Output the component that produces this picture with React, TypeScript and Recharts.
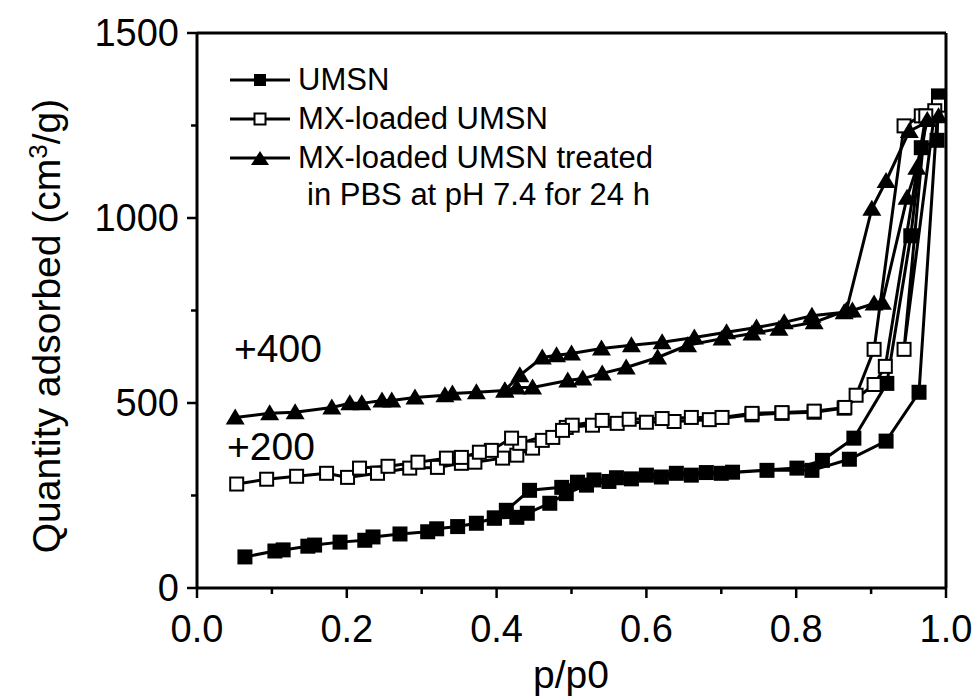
import React from "react";
import { LineChart, Line, XAxis, YAxis, ReferenceLine } from "recharts";

// UMSN: adsorption then desorption branch, in measurement order
const umsnAdsP = [0.064, 0.104, 0.115, 0.148, 0.157, 0.191, 0.224, 0.235, 0.271, 0.308, 0.32, 0.348, 0.373, 0.397, 0.427, 0.441, 0.471, 0.493, 0.52, 0.55, 0.58, 0.62, 0.66, 0.7, 0.761, 0.821, 0.871, 0.92, 0.964, 0.99];
const umsnAdsV = [84, 100, 103, 113, 116, 124, 129, 138, 146, 152, 160, 166, 175, 189, 191, 202, 229, 255, 278, 288, 295, 300, 305, 310, 318, 318, 348, 397, 529, 1330];
const umsnDesP = [0.988, 0.967, 0.953, 0.921, 0.877, 0.835, 0.801, 0.715, 0.68, 0.64, 0.6, 0.56, 0.53, 0.508, 0.487, 0.444, 0.413, 0.397];
const umsnDesV = [1210, 1190, 952, 553, 405, 345, 324, 313, 312, 310, 305, 298, 292, 286, 272, 264, 210, 189];

// MX-loaded UMSN (+200 offset already in the plotted values)
const mxAdsP = [0.053, 0.093, 0.133, 0.173, 0.201, 0.241, 0.284, 0.321, 0.353, 0.371, 0.408, 0.427, 0.448, 0.461, 0.475, 0.493, 0.528, 0.561, 0.6, 0.637, 0.684, 0.741, 0.781, 0.824, 0.864, 0.88, 0.904, 0.944, 0.967, 0.99];
const mxAdsV = [281, 294, 302, 310, 299, 310, 324, 326, 337, 340, 351, 359, 378, 399, 407, 434, 440, 445, 448, 450, 455, 468, 472, 475, 486, 521, 645, 1249, 1276, 1305];
const mxDesP = [0.985, 0.944, 0.973, 0.919, 0.904, 0.865, 0.824, 0.781, 0.741, 0.701, 0.66, 0.621, 0.577, 0.541, 0.501, 0.488, 0.431, 0.42, 0.393, 0.377, 0.353, 0.333, 0.295, 0.255, 0.217];
const mxDesV = [1290, 645, 1276, 599, 550, 488, 478, 474, 472, 461, 461, 458, 456, 453, 440, 426, 391, 405, 372, 367, 353, 351, 340, 329, 324];

// MX-loaded UMSN treated in PBS (+400 offset already in the plotted values)
const pbsAdsP = [0.051, 0.097, 0.131, 0.18, 0.204, 0.22, 0.247, 0.26, 0.291, 0.331, 0.341, 0.373, 0.411, 0.427, 0.448, 0.495, 0.515, 0.541, 0.573, 0.615, 0.655, 0.701, 0.741, 0.777, 0.824, 0.867, 0.901, 0.92, 0.951, 0.99];
const pbsAdsV = [461, 472, 475, 488, 499, 499, 507, 507, 515, 521, 526, 529, 534, 542, 542, 561, 566, 580, 596, 623, 656, 674, 688, 701, 718, 750, 1025, 1100, 1235, 1275];
const pbsDesP = [0.975, 0.961, 0.948, 0.915, 0.904, 0.875, 0.864, 0.821, 0.784, 0.747, 0.707, 0.664, 0.621, 0.58, 0.54, 0.5, 0.48, 0.461, 0.431, 0.411];
const pbsDesV = [1265, 1136, 1055, 771, 769, 750, 745, 736, 718, 704, 691, 677, 664, 656, 647, 634, 629, 623, 575, 534];

const xTicks = [0, 0.1, 0.2, 0.3, 0.4, 0.5, 0.6, 0.7, 0.8, 0.9, 1.0];
const yTicks = [0, 250, 500, 750, 1000, 1250, 1500];

const FONT = "'Liberation Sans', Arial, sans-serif";

const toPoints = (p: number[], v: number[]) => p.map((x, i) => ({ p: x, v: v[i] }));

const umsnData = [...toPoints(umsnAdsP, umsnAdsV), ...toPoints(umsnDesP, umsnDesV)];
const mxData = [...toPoints(mxAdsP, mxAdsV), ...toPoints(mxDesP, mxDesV)];
const pbsData = [...toPoints(pbsAdsP, pbsAdsV), ...toPoints(pbsDesP, pbsDesV)];

const FilledSquare = (props: any) => {
  const { cx, cy, index } = props;
  if (cx == null || cy == null) return <g key={index} />;
  return <rect key={index} x={cx - 7.5} y={cy - 7.5} width={15} height={15} fill="#000" />;
};

const OpenSquare = (props: any) => {
  const { cx, cy, index } = props;
  if (cx == null || cy == null) return <g key={index} />;
  return (
    <rect key={index} x={cx - 6.5} y={cy - 6.5} width={13} height={13} fill="#fff" stroke="#000" strokeWidth={2} />
  );
};

const Triangle = (props: any) => {
  const { cx, cy, index } = props;
  if (cx == null || cy == null) return <g key={index} />;
  return <polygon key={index} points={`${cx},${cy - 9} ${cx - 9.5},${cy + 7} ${cx + 9.5},${cy + 7}`} fill="#000" />;
};

const XTick = (props: any) => {
  const { x, y, payload } = props;
  const val = payload.value as number;
  const major = Math.round(val * 10) % 2 === 0;
  return (
    <g>
      <line x1={x} x2={x} y1={y} y2={y + (major ? 10 : 6)} stroke="#000" strokeWidth={2.5} />
      {major && (
        <text x={x} y={y + 54} textAnchor="middle" fontSize={38} fontFamily={FONT} fill="#000">
          {val.toFixed(1)}
        </text>
      )}
    </g>
  );
};

const YTick = (props: any) => {
  const { x, y, payload } = props;
  const val = payload.value as number;
  const major = val % 500 === 0;
  return (
    <g>
      <line x1={x} x2={x - (major ? 10 : 6)} y1={y} y2={y} stroke="#000" strokeWidth={2.5} />
      {major && (
        <text x={x - 18} y={y + 13} textAnchor="end" fontSize={38} fontFamily={FONT} fill="#000">
          {val}
        </text>
      )}
    </g>
  );
};

export default function App() {
  const axisLine = { stroke: "#000", strokeWidth: 3 };
  return (
    <div style={{ position: "absolute", left: 0, top: 0, width: 979, height: 696, background: "#fff" }}>
      <LineChart width={979} height={696} margin={{ top: 33, right: 33, bottom: 48, left: 97 }}>
        <XAxis
          dataKey="p"
          type="number"
          domain={[0, 1]}
          ticks={xTicks}
          tick={<XTick />}
          tickLine={false}
          tickSize={0}
          tickMargin={0}
          axisLine={axisLine}
          height={60}
          interval={0}
          allowDataOverflow
        />
        <YAxis
          type="number"
          domain={[0, 1500]}
          ticks={yTicks}
          tick={<YTick />}
          tickLine={false}
          tickSize={0}
          tickMargin={0}
          axisLine={axisLine}
          width={100}
          interval={0}
          allowDataOverflow
        />
        <ReferenceLine y={1500} stroke="#000" strokeWidth={3} ifOverflow="visible" />
        <ReferenceLine x={1} stroke="#000" strokeWidth={3} ifOverflow="visible" />
        <Line data={umsnData} dataKey="v" type="linear" stroke="#000" strokeWidth={3} dot={FilledSquare} activeDot={false} isAnimationActive={false} />
        <Line data={mxData} dataKey="v" type="linear" stroke="#000" strokeWidth={3} dot={OpenSquare} activeDot={false} isAnimationActive={false} />
        <Line data={pbsData} dataKey="v" type="linear" stroke="#000" strokeWidth={3} dot={Triangle} activeDot={false} isAnimationActive={false} />
      </LineChart>
      <svg width={979} height={696} style={{ position: "absolute", left: 0, top: 0, pointerEvents: "none" }} fontFamily={FONT}>
        <g stroke="#000" strokeWidth={3}>
          <line x1={230} x2={290} y1={80} y2={80} />
          <line x1={230} x2={290} y1={119} y2={119} />
          <line x1={230} x2={290} y1={158} y2={158} />
        </g>
        <rect x={254} y={74} width={12} height={12} fill="#000" />
        <rect x={254.5} y={113.5} width={11} height={11} fill="#fff" stroke="#000" strokeWidth={2} />
        <polygon points="260,151 251,165 269,165" fill="#000" />
        <g fontSize={31} fill="#000">
          <text x={298} y={90}>UMSN</text>
          <text x={298} y={129}>MX-loaded UMSN</text>
          <text x={298} y={168}>MX-loaded UMSN treated</text>
          <text x={307} y={205}>in PBS at pH 7.4 for 24 h</text>
        </g>
        <text x={234} y={362} fontSize={39} fill="#000">+400</text>
        <text x={227} y={460} fontSize={39} fill="#000">+200</text>
        <text x={571} y={688} fontSize={39} textAnchor="middle" fill="#000">p/p0</text>
        <text transform="translate(60,326) rotate(-90)" fontSize={39} textAnchor="middle" fill="#000">
          Quantity adsorbed (cm<tspan dy={-13} fontSize={26}>3</tspan><tspan dy={13}>/g)</tspan>
        </text>
      </svg>
    </div>
  );
}
